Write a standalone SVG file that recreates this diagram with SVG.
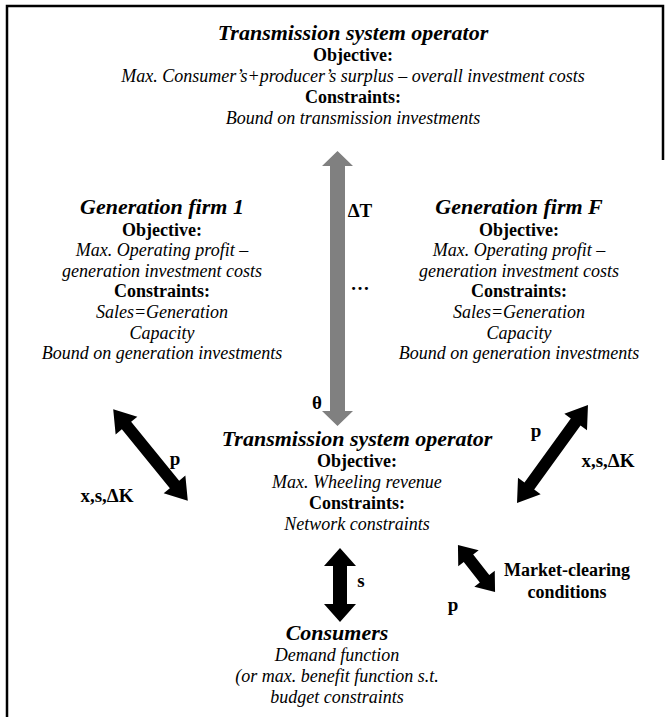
<svg xmlns="http://www.w3.org/2000/svg" width="670" height="717" viewBox="0 0 670 717">
<style>
text{font-family:"Liberation Serif","Times New Roman",serif;fill:#000;text-anchor:middle}
.ti{font-style:italic;font-weight:bold;font-size:22px}
.h{font-weight:bold;font-size:18px}
.t{font-style:italic;font-size:18px}
.lb{font-weight:bold;font-size:19px}
.lbs{font-weight:bold;font-size:18px}
.frame{fill:none;stroke:#000;stroke-width:2.5}
.blk{fill:#000}
.gry{fill:#808080}
</style>
<rect width="670" height="717" fill="#fff"/>
<path class="frame" d="M7 717 V6 H663 V160"/>

<g id="tso-top">
<text class="ti" x="353" y="40">Transmission system operator</text>
<text class="h" x="353" y="61">Objective:</text>
<text class="t" x="353" y="82">Max. Consumer’s+producer’s surplus – overall investment costs</text>
<text class="h" x="353" y="103">Constraints:</text>
<text class="t" x="353" y="124">Bound on transmission investments</text>
</g>

<g id="gen-firm-1">
<text class="ti" x="162" y="214">Generation firm 1</text>
<text class="h" x="162" y="236">Objective:</text>
<text class="t" x="162" y="256">Max. Operating profit –</text>
<text class="t" x="162" y="277">generation investment costs</text>
<text class="h" x="162" y="297">Constraints:</text>
<text class="t" x="162" y="318">Sales=Generation</text>
<text class="t" x="162" y="339">Capacity</text>
<text class="t" x="162" y="359">Bound on generation investments</text>
</g>

<g id="gen-firm-f">
<text class="ti" x="519" y="214">Generation firm F</text>
<text class="h" x="519" y="236">Objective:</text>
<text class="t" x="519" y="256">Max. Operating profit –</text>
<text class="t" x="519" y="277">generation investment costs</text>
<text class="h" x="519" y="297">Constraints:</text>
<text class="t" x="519" y="318">Sales=Generation</text>
<text class="t" x="519" y="339">Capacity</text>
<text class="t" x="519" y="359">Bound on generation investments</text>
</g>

<g id="tso-mid">
<text class="ti" x="357" y="446">Transmission system operator</text>
<text class="h" x="357" y="467">Objective:</text>
<text class="t" x="357" y="488">Max. Wheeling revenue</text>
<text class="h" x="357" y="509">Constraints:</text>
<text class="t" x="357" y="530">Network constraints</text>
</g>

<g id="consumers">
<text class="ti" x="337" y="640">Consumers</text>
<text class="t" x="337" y="661">Demand function</text>
<text class="t" x="337" y="682">(or max. benefit function s.t.</text>
<text class="t" x="337" y="703">budget constraints</text>
</g>

<g id="market-clearing">
<text class="lbs" x="567" y="576">Market-clearing</text>
<text class="lbs" x="567" y="598">conditions</text>
</g>

<g id="connectors">
<path class="gry" d="M337.5 151 L353 166 L345 166 L345 411 L353 411 L337.5 426 L322 411 L330 411 L330 166 L322 166 Z"/>
<path class="blk" transform="translate(150.5 455) rotate(50.8)" d="M-59 0 L-38 -14 L-38 -6 L38 -6 L38 -14 L59 0 L38 14 L38 6 L-38 6 L-38 14 Z"/>
<path class="blk" transform="translate(552.5 454) rotate(125.9)" d="M-60.5 0 L-39.5 -14 L-39.5 -6 L39.5 -6 L39.5 -14 L60.5 0 L39.5 14 L39.5 6 L-39.5 6 L-39.5 14 Z"/>
<path class="blk" transform="translate(340 585) rotate(90)" d="M-37 0 L-19 -16 L-19 -7 L19 -7 L19 -16 L37 0 L19 16 L19 7 L-19 7 L-19 16 Z"/>
<path class="blk" transform="translate(476.5 568.5) rotate(51.8)" d="M-30 0 L-13 -13 L-13 -6 L13 -6 L13 -13 L30 0 L13 13 L13 6 L-13 6 L-13 13 Z"/>
<text class="lb" x="360" y="217">ΔT</text>
<text class="lb" x="360" y="290">…</text>
<text class="lb" x="317" y="409">θ</text>
<text class="lb" x="175" y="465">p</text>
<text class="lb" x="107" y="502">x,s,ΔK</text>
<text class="lb" x="536" y="437">p</text>
<text class="lb" x="608" y="467">x,s,ΔK</text>
<text class="lb" x="361" y="587">s</text>
<text class="lb" x="453" y="611">p</text>
</g>
</svg>
